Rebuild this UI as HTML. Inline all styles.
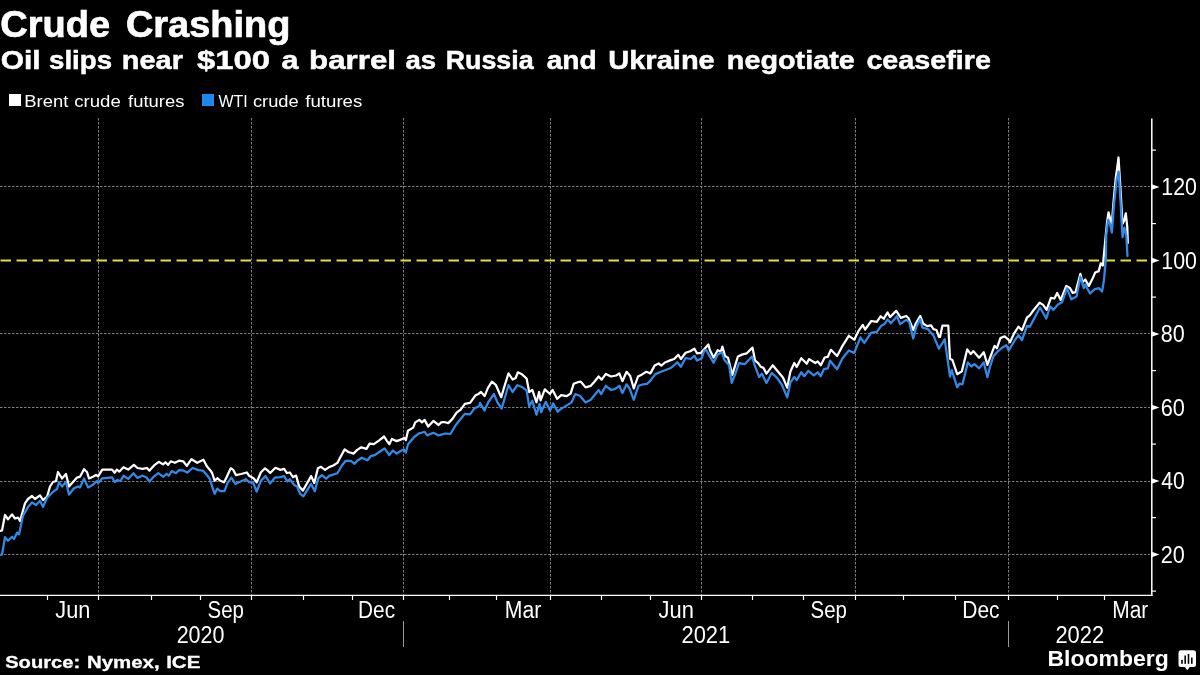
<!DOCTYPE html>
<html><head><meta charset="utf-8"><style>
html,body{margin:0;padding:0;background:#000;}
body{width:1200px;height:675px;overflow:hidden;}
svg{display:block;font-family:"Liberation Sans", sans-serif;will-change:transform;}
</style></head><body>
<svg width="1200" height="675" viewBox="0 0 1200 675">
<rect width="1200" height="675" fill="#000"/>
<line x1="0" y1="186.5" x2="1150" y2="186.5" stroke="#7c7c7c" stroke-width="1" stroke-dasharray="2.5 1.5"/>
<line x1="0" y1="333.5" x2="1150" y2="333.5" stroke="#7c7c7c" stroke-width="1" stroke-dasharray="2.5 1.5"/>
<line x1="0" y1="407.5" x2="1150" y2="407.5" stroke="#7c7c7c" stroke-width="1" stroke-dasharray="2.5 1.5"/>
<line x1="0" y1="481.5" x2="1150" y2="481.5" stroke="#7c7c7c" stroke-width="1" stroke-dasharray="2.5 1.5"/>
<line x1="0" y1="554.5" x2="1150" y2="554.5" stroke="#7c7c7c" stroke-width="1" stroke-dasharray="2.5 1.5"/>
<line x1="98.5" y1="118" x2="98.5" y2="595" stroke="#7c7c7c" stroke-width="1" stroke-dasharray="2.5 1.5"/>
<line x1="251.5" y1="118" x2="251.5" y2="595" stroke="#7c7c7c" stroke-width="1" stroke-dasharray="2.5 1.5"/>
<line x1="403.5" y1="118" x2="403.5" y2="595" stroke="#7c7c7c" stroke-width="1" stroke-dasharray="2.5 1.5"/>
<line x1="550.5" y1="118" x2="550.5" y2="595" stroke="#7c7c7c" stroke-width="1" stroke-dasharray="2.5 1.5"/>
<line x1="701.5" y1="118" x2="701.5" y2="595" stroke="#7c7c7c" stroke-width="1" stroke-dasharray="2.5 1.5"/>
<line x1="855.5" y1="118" x2="855.5" y2="595" stroke="#7c7c7c" stroke-width="1" stroke-dasharray="2.5 1.5"/>
<line x1="1008.5" y1="118" x2="1008.5" y2="595" stroke="#7c7c7c" stroke-width="1" stroke-dasharray="2.5 1.5"/>
<line x1="0.5" y1="260.4" x2="1150" y2="260.4" stroke="#e2e02c" stroke-width="2" stroke-dasharray="10.5 5.5"/>
<polyline points="0.0,531.0 2.0,530.5 5.0,515.0 8.0,519.4 12.0,514.4 15.0,518.5 18.0,517.6 20.0,521.0 25.0,503.4 28.0,499.0 32.0,496.0 35.0,499.0 40.0,495.4 43.0,500.0 47.0,497.0 50.0,486.5 53.0,482.0 56.0,481.0 58.0,472.0 62.0,478.5 66.0,474.0 69.0,486.5 73.0,482.0 77.0,477.6 80.0,476.7 84.0,469.2 87.0,472.0 89.0,478.5 93.0,476.7 96.0,475.0 98.1,476.3 102.3,469.6 107.4,469.6 112.1,469.6 114.7,472.7 116.8,469.6 119.4,471.6 123.5,467.2 128.2,469.6 133.9,464.9 137.5,468.0 142.7,468.8 146.9,468.0 149.5,470.6 154.1,465.4 158.8,461.8 163.0,464.4 165.5,462.3 168.1,464.9 170.7,461.3 174.9,462.8 179.0,460.7 183.2,461.3 186.8,465.9 191.5,459.2 197.2,462.8 203.4,459.7 207.0,466.5 210.0,469.9 212.1,473.0 214.7,480.8 217.3,478.2 220.4,480.8 224.0,482.3 226.6,477.2 230.7,468.3 233.3,469.9 235.9,475.1 241.1,474.0 246.8,472.5 249.4,476.1 253.6,478.2 256.7,482.3 260.8,472.5 265.0,468.3 267.6,470.4 270.2,473.0 275.4,467.8 280.5,469.9 284.2,468.9 286.8,473.0 289.9,472.5 293.0,477.2 296.1,475.6 299.2,486.5 302.8,490.6 307.0,483.4 311.1,476.1 314.3,482.9 317.9,468.3 321.0,466.8 325.1,469.9 329.1,467.1 333.3,465.5 337.4,462.9 340.6,456.7 344.7,449.4 348.3,452.0 353.5,453.6 357.2,449.9 361.3,447.3 366.5,448.9 369.6,443.7 373.8,444.2 378.9,440.6 384.1,436.5 386.7,440.6 389.3,444.2 391.9,439.0 396.6,441.1 400.7,439.6 404.4,438.0 405.9,440.1 408.0,430.7 413.2,427.6 415.2,422.4 419.4,419.9 422.0,422.4 424.6,419.9 428.2,426.6 433.4,420.9 438.6,425.0 441.2,422.4 444.1,422.0 448.3,423.1 452.4,418.9 456.6,412.7 460.7,409.6 464.9,403.9 470.1,402.9 475.3,395.6 478.4,394.0 481.0,392.0 484.6,396.1 487.7,388.3 491.9,381.6 496.0,385.2 501.2,397.2 504.3,386.8 508.5,373.3 512.6,379.5 515.7,378.0 517.8,372.3 522.0,374.3 526.6,378.5 529.2,392.0 532.3,389.9 536.5,402.3 539.1,392.0 540.6,400.3 544.8,389.4 550.0,394.0 552.6,389.9 557.1,398.8 561.2,395.2 566.4,396.2 570.6,393.6 573.7,383.8 577.8,382.2 580.9,381.7 585.6,387.4 590.8,385.8 594.4,381.7 598.6,376.5 601.7,379.6 605.8,373.9 611.0,376.5 616.2,375.5 619.3,373.4 622.4,381.2 626.6,371.8 630.2,376.0 633.8,388.4 638.0,376.5 642.1,374.4 646.3,371.8 650.4,373.4 654.6,365.6 658.7,363.5 661.3,365.6 665.0,362.5 670.1,360.4 674.1,359.0 678.3,354.9 680.9,359.0 685.6,352.8 690.2,351.3 694.4,348.7 697.0,353.3 701.1,352.8 704.2,349.2 708.4,344.5 709.9,350.2 713.6,357.5 717.7,350.2 720.8,351.8 722.4,346.6 725.0,355.9 728.1,358.0 732.2,375.1 737.9,356.5 742.6,354.4 746.8,353.3 752.5,347.6 755.1,360.6 758.2,363.2 760.8,366.8 763.4,367.9 766.5,373.6 772.7,365.3 777.9,371.5 783.1,377.7 787.2,387.6 790.4,371.5 794.3,363.0 796.7,366.9 801.3,358.3 806.8,363.8 809.1,359.1 815.3,363.0 817.7,361.4 820.8,365.3 824.7,357.5 827.8,356.8 830.9,349.8 837.1,356.0 842.5,345.9 848.8,335.8 854.2,339.7 858.9,330.3 862.8,324.9 865.1,329.5 871.3,321.0 876.8,321.8 880.6,316.3 883.8,318.7 887.6,312.4 890.0,317.1 896.2,310.9 900.9,317.9 906.2,316.0 908.6,318.3 913.2,330.0 915.6,323.8 920.2,316.0 923.3,323.8 927.2,326.1 931.1,325.3 933.4,329.2 936.5,330.0 938.9,337.0 940.0,336.9 942.4,325.7 948.3,325.7 950.0,358.8 952.4,360.0 957.2,374.2 961.9,371.3 967.2,349.4 970.8,354.1 973.2,351.1 979.1,357.7 983.8,352.3 987.4,364.8 994.5,345.8 996.9,348.2 1000.4,338.1 1004.6,336.3 1008.7,339.9 1010.0,342.3 1014.3,333.1 1018.5,326.7 1022.0,330.2 1027.0,317.5 1029.8,315.4 1033.3,310.5 1039.6,302.7 1043.1,304.9 1046.6,309.8 1050.9,297.8 1054.4,298.5 1057.2,292.9 1060.7,299.9 1066.3,285.9 1069.9,288.0 1072.7,292.9 1075.5,292.2 1080.4,273.9 1082.5,282.3 1085.3,279.5 1088.8,285.9 1093.1,277.4 1095.2,272.5 1098.7,271.1 1100.8,263.4 1102.9,265.5 1105.2,241.2 1107.1,221.9 1108.5,212.3 1110.0,218.0 1111.5,227.7 1113.8,198.8 1115.8,177.7 1117.7,164.2 1118.5,157.5 1120.6,191.2 1122.5,223.8 1124.4,220.0 1125.8,213.3 1127.3,227.7 1127.8,243.0" fill="none" stroke="#ffffff" stroke-width="2.25" stroke-linejoin="round" stroke-linecap="round"/>
<polyline points="0.0,555.0 2.0,554.5 5.0,537.2 8.0,540.7 12.0,536.8 14.0,539.0 17.0,532.7 19.0,534.5 23.0,515.8 28.0,507.0 32.0,502.5 36.0,505.0 40.0,500.7 43.0,507.0 47.0,498.0 53.0,491.8 57.0,489.0 59.0,482.0 62.0,486.5 66.0,482.0 69.0,494.5 74.0,488.3 78.0,486.5 80.0,487.4 84.0,478.5 88.0,487.4 93.0,484.7 97.0,481.0 98.1,483.0 102.3,478.4 112.1,477.3 114.7,482.0 117.3,480.0 120.4,481.0 123.5,475.8 128.2,478.9 133.4,473.2 137.5,477.9 142.2,475.8 146.3,477.3 149.5,481.5 154.1,476.3 158.3,473.2 163.5,476.8 166.6,473.7 168.7,475.8 171.8,471.1 175.9,473.2 179.0,470.1 183.7,470.6 187.3,472.7 192.5,468.0 198.7,470.1 202.9,470.6 207.0,475.3 210.0,479.2 212.1,486.5 214.7,493.8 217.3,488.6 220.4,491.2 224.5,491.2 227.6,482.9 231.3,477.7 235.4,483.9 241.1,481.3 245.8,479.2 249.4,482.3 253.0,482.3 256.7,491.7 260.8,480.8 265.5,476.1 270.2,483.4 274.8,477.7 280.5,477.2 284.2,476.1 287.3,481.3 289.9,479.2 294.0,484.9 297.1,486.5 300.2,493.8 303.4,496.3 307.5,489.6 311.1,483.9 314.8,491.2 318.4,478.2 322.0,475.1 326.2,478.7 329.1,475.9 337.4,473.3 341.6,466.0 345.7,460.8 350.9,460.8 354.6,463.9 357.2,460.8 361.8,457.7 367.5,460.3 370.6,456.2 374.8,455.1 380.0,451.5 384.6,448.4 389.3,455.1 392.9,450.5 396.6,453.6 400.7,451.0 403.8,449.4 405.9,452.5 408.0,444.2 414.2,437.0 418.9,433.3 421.5,432.8 424.6,431.8 427.2,435.4 433.4,432.8 438.6,435.4 445.2,433.5 450.4,434.0 455.6,425.2 460.7,418.9 464.9,413.8 470.1,414.3 474.2,408.6 479.4,406.0 480.0,402.9 484.5,410.6 488.1,402.5 490.5,399.0 493.9,393.9 495.5,397.6 497.5,402.5 501.6,408.6 504.4,399.2 508.5,385.2 512.6,392.0 517.3,385.2 522.5,387.3 526.6,390.4 529.2,406.5 532.3,400.8 536.5,414.8 539.6,403.9 541.1,412.2 545.8,401.8 550.0,410.6 553.1,403.4 557.7,411.7 560.0,409.6 571.6,402.4 575.2,394.1 579.9,395.7 585.6,402.4 590.8,399.8 598.6,390.0 601.2,394.1 605.8,385.8 611.0,390.0 615.2,388.9 619.3,385.8 622.4,393.1 626.6,384.3 629.7,388.9 633.8,399.8 638.5,385.8 643.2,384.3 647.3,383.8 650.4,380.6 655.1,374.4 659.8,372.3 665.0,370.3 670.1,368.2 673.1,366.3 677.3,362.2 680.9,366.8 685.6,358.0 690.7,359.0 694.4,355.9 697.0,360.6 701.6,358.5 704.2,350.7 706.3,350.2 708.9,354.9 713.6,362.7 717.7,354.4 721.9,352.3 724.5,360.1 729.1,365.3 731.7,382.9 735.4,373.6 739.0,363.2 744.7,364.2 752.0,356.5 754.5,364.8 759.2,377.2 761.8,373.6 766.5,382.9 771.7,373.0 776.8,377.7 782.0,385.0 787.2,397.4 790.4,382.4 794.3,377.0 796.7,380.1 801.3,372.3 804.4,376.2 808.3,370.8 813.8,375.4 817.7,372.3 820.8,376.2 823.9,369.2 827.8,368.4 830.1,360.7 837.1,369.2 842.5,358.3 848.8,350.5 854.2,352.9 860.4,337.3 864.3,342.8 871.3,332.7 876.8,331.9 881.4,325.7 884.5,324.1 887.6,319.4 890.8,323.3 897.0,316.3 900.1,324.1 906.2,319.9 909.3,322.2 913.2,338.5 916.3,326.9 920.2,319.1 922.5,327.7 928.0,329.2 933.4,335.4 938.9,348.7 940.0,347.0 944.7,339.3 950.0,376.6 951.8,370.1 957.2,387.3 959.5,383.7 962.5,384.3 967.8,362.4 971.4,366.5 974.4,364.2 979.1,368.3 983.8,362.4 987.4,377.2 990.0,367.0 993.3,356.5 998.1,351.1 1002.0,347.8 1006.4,345.2 1008.7,350.5 1015.0,340.0 1018.5,335.1 1022.0,340.0 1027.0,325.9 1029.8,326.7 1034.0,318.9 1040.0,307.5 1046.3,318.5 1050.1,306.5 1053.5,309.9 1057.8,304.6 1062.1,302.2 1067.0,288.2 1071.3,299.3 1076.6,296.4 1080.4,276.7 1083.8,288.2 1085.2,284.4 1090.0,293.5 1094.9,289.2 1099.2,288.2 1102.1,291.6 1104.0,280.0 1105.9,258.0 1106.2,235.4 1108.1,220.0 1110.0,223.8 1111.9,232.5 1113.8,206.5 1116.7,179.6 1118.7,171.9 1120.6,202.7 1122.5,237.3 1124.4,227.7 1126.3,235.4 1127.5,256.0" fill="none" stroke="#318aea" stroke-width="2.25" stroke-linejoin="round" stroke-linecap="round"/>
<line x1="1151.8" y1="118.5" x2="1151.8" y2="596" stroke="#fff" stroke-width="1.5"/>
<line x1="0" y1="595.4" x2="1152.4" y2="595.4" stroke="#fff" stroke-width="1.15"/>
<line x1="1151" y1="150.1" x2="1156" y2="150.1" stroke="#fff" stroke-width="1.2"/>
<line x1="1151" y1="223.6" x2="1156" y2="223.6" stroke="#fff" stroke-width="1.2"/>
<line x1="1151" y1="297.1" x2="1156" y2="297.1" stroke="#fff" stroke-width="1.2"/>
<line x1="1151" y1="370.6" x2="1156" y2="370.6" stroke="#fff" stroke-width="1.2"/>
<line x1="1151" y1="444.1" x2="1156" y2="444.1" stroke="#fff" stroke-width="1.2"/>
<line x1="1151" y1="517.6" x2="1156" y2="517.6" stroke="#fff" stroke-width="1.2"/>
<line x1="1151" y1="591.1" x2="1156" y2="591.1" stroke="#fff" stroke-width="1.2"/>
<polygon points="1151,183.9 1159.5,186.9 1151,189.9" fill="#fff"/>
<text x="1161.32" y="195.1" font-size="23" fill="#fff" textLength="35.59" lengthAdjust="spacingAndGlyphs">120</text>
<polygon points="1151,257.4 1159.5,260.4 1151,263.4" fill="#fff"/>
<text x="1161.32" y="268.6" font-size="23" fill="#fff" textLength="35.59" lengthAdjust="spacingAndGlyphs">100</text>
<polygon points="1151,330.9 1159.5,333.9 1151,336.9" fill="#fff"/>
<text x="1160.86" y="342.1" font-size="23" fill="#fff" textLength="23.97" lengthAdjust="spacingAndGlyphs">80</text>
<polygon points="1151,404.4 1159.5,407.4 1151,410.4" fill="#fff"/>
<text x="1160.67" y="415.6" font-size="23" fill="#fff" textLength="24.17" lengthAdjust="spacingAndGlyphs">60</text>
<polygon points="1151,477.9 1159.5,480.9 1151,483.9" fill="#fff"/>
<text x="1161.34" y="489.1" font-size="23" fill="#fff" textLength="23.47" lengthAdjust="spacingAndGlyphs">40</text>
<polygon points="1151,551.4 1159.5,554.4 1151,557.4" fill="#fff"/>
<text x="1160.77" y="562.6" font-size="23" fill="#fff" textLength="24.07" lengthAdjust="spacingAndGlyphs">20</text>
<line x1="47.5" y1="595" x2="47.5" y2="600" stroke="#fff" stroke-width="1.2"/>
<line x1="98.5" y1="595" x2="98.5" y2="600" stroke="#fff" stroke-width="1.2"/>
<line x1="151.5" y1="595" x2="151.5" y2="600" stroke="#fff" stroke-width="1.2"/>
<line x1="200.5" y1="595" x2="200.5" y2="600" stroke="#fff" stroke-width="1.2"/>
<line x1="251.5" y1="595" x2="251.5" y2="600" stroke="#fff" stroke-width="1.2"/>
<line x1="303.5" y1="595" x2="303.5" y2="600" stroke="#fff" stroke-width="1.2"/>
<line x1="352.5" y1="595" x2="352.5" y2="600" stroke="#fff" stroke-width="1.2"/>
<line x1="403.5" y1="595" x2="403.5" y2="600" stroke="#fff" stroke-width="1.2"/>
<line x1="449.5" y1="595" x2="449.5" y2="600" stroke="#fff" stroke-width="1.2"/>
<line x1="496.5" y1="595" x2="496.5" y2="600" stroke="#fff" stroke-width="1.2"/>
<line x1="550.5" y1="595" x2="550.5" y2="600" stroke="#fff" stroke-width="1.2"/>
<line x1="601.5" y1="595" x2="601.5" y2="600" stroke="#fff" stroke-width="1.2"/>
<line x1="650.5" y1="595" x2="650.5" y2="600" stroke="#fff" stroke-width="1.2"/>
<line x1="701.5" y1="595" x2="701.5" y2="600" stroke="#fff" stroke-width="1.2"/>
<line x1="752.5" y1="595" x2="752.5" y2="600" stroke="#fff" stroke-width="1.2"/>
<line x1="803.5" y1="595" x2="803.5" y2="600" stroke="#fff" stroke-width="1.2"/>
<line x1="855.5" y1="595" x2="855.5" y2="600" stroke="#fff" stroke-width="1.2"/>
<line x1="903.5" y1="595" x2="903.5" y2="600" stroke="#fff" stroke-width="1.2"/>
<line x1="955.5" y1="595" x2="955.5" y2="600" stroke="#fff" stroke-width="1.2"/>
<line x1="1008.5" y1="595" x2="1008.5" y2="600" stroke="#fff" stroke-width="1.2"/>
<line x1="1057.5" y1="595" x2="1057.5" y2="600" stroke="#fff" stroke-width="1.2"/>
<line x1="1104.5" y1="595" x2="1104.5" y2="600" stroke="#fff" stroke-width="1.2"/>
<text x="55.32" y="617.6" font-size="23" fill="#fff" textLength="35.08" lengthAdjust="spacingAndGlyphs">Jun</text>
<text x="207.52" y="617.6" font-size="23" fill="#fff" textLength="36.39" lengthAdjust="spacingAndGlyphs">Sep</text>
<text x="358.08" y="617.6" font-size="23" fill="#fff" textLength="36.96" lengthAdjust="spacingAndGlyphs">Dec</text>
<text x="504.75" y="617.6" font-size="23" fill="#fff" textLength="36.54" lengthAdjust="spacingAndGlyphs">Mar</text>
<text x="658.62" y="617.6" font-size="23" fill="#fff" textLength="35.29" lengthAdjust="spacingAndGlyphs">Jun</text>
<text x="810.52" y="617.6" font-size="23" fill="#fff" textLength="36.39" lengthAdjust="spacingAndGlyphs">Sep</text>
<text x="962.27" y="617.6" font-size="23" fill="#fff" textLength="37.28" lengthAdjust="spacingAndGlyphs">Dec</text>
<text x="1112.27" y="617.6" font-size="23" fill="#fff" textLength="36.01" lengthAdjust="spacingAndGlyphs">Mar</text>
<text x="176.67" y="642.6" font-size="23" fill="#fff" textLength="47.84" lengthAdjust="spacingAndGlyphs">2020</text>
<text x="681.45" y="642.6" font-size="23" fill="#fff" textLength="48.77" lengthAdjust="spacingAndGlyphs">2021</text>
<text x="1055.45" y="642.6" font-size="23" fill="#fff" textLength="48.66" lengthAdjust="spacingAndGlyphs">2022</text>
<line x1="403.5" y1="621" x2="403.5" y2="647" stroke="#9a9a9a" stroke-width="1"/>
<line x1="1008.5" y1="621" x2="1008.5" y2="647" stroke="#9a9a9a" stroke-width="1"/>
<text x="0.36" y="36.7" font-size="37" font-weight="bold" fill="#fff" textLength="109.72" lengthAdjust="spacingAndGlyphs" stroke="#fff" stroke-width="0.7">Crude</text>
<text x="125.96" y="36.7" font-size="37" font-weight="bold" fill="#fff" textLength="164.46" lengthAdjust="spacingAndGlyphs" stroke="#fff" stroke-width="0.7">Crashing</text>
<text x="0.77" y="68.8" font-size="26.7" font-weight="bold" fill="#fff" textLength="39.87" lengthAdjust="spacingAndGlyphs" stroke="#fff" stroke-width="0.5">Oil</text>
<text x="49.07" y="68.8" font-size="26.7" font-weight="bold" fill="#fff" textLength="63.02" lengthAdjust="spacingAndGlyphs" stroke="#fff" stroke-width="0.5">slips</text>
<text x="121.80" y="68.8" font-size="26.7" font-weight="bold" fill="#fff" textLength="61.13" lengthAdjust="spacingAndGlyphs" stroke="#fff" stroke-width="0.5">near</text>
<text x="197.01" y="68.8" font-size="26.7" font-weight="bold" fill="#fff" textLength="72.97" lengthAdjust="spacingAndGlyphs" stroke="#fff" stroke-width="0.5">$100</text>
<text x="281.58" y="68.8" font-size="26.7" font-weight="bold" fill="#fff" textLength="16.99" lengthAdjust="spacingAndGlyphs" stroke="#fff" stroke-width="0.5">a</text>
<text x="309.14" y="68.8" font-size="26.7" font-weight="bold" fill="#fff" textLength="86.84" lengthAdjust="spacingAndGlyphs" stroke="#fff" stroke-width="0.5">barrel</text>
<text x="405.43" y="68.8" font-size="26.7" font-weight="bold" fill="#fff" textLength="30.60" lengthAdjust="spacingAndGlyphs" stroke="#fff" stroke-width="0.5">as</text>
<text x="445.69" y="68.8" font-size="26.7" font-weight="bold" fill="#fff" textLength="87.92" lengthAdjust="spacingAndGlyphs" stroke="#fff" stroke-width="0.5">Russia</text>
<text x="546.66" y="68.8" font-size="26.7" font-weight="bold" fill="#fff" textLength="50.11" lengthAdjust="spacingAndGlyphs" stroke="#fff" stroke-width="0.5">and</text>
<text x="608.26" y="68.8" font-size="26.7" font-weight="bold" fill="#fff" textLength="106.52" lengthAdjust="spacingAndGlyphs" stroke="#fff" stroke-width="0.5">Ukraine</text>
<text x="726.81" y="68.8" font-size="26.7" font-weight="bold" fill="#fff" textLength="128.00" lengthAdjust="spacingAndGlyphs" stroke="#fff" stroke-width="0.5">negotiate</text>
<text x="866.42" y="68.8" font-size="26.7" font-weight="bold" fill="#fff" textLength="124.54" lengthAdjust="spacingAndGlyphs" stroke="#fff" stroke-width="0.5">ceasefire</text>
<rect x="9" y="94" width="12" height="12" fill="#fff"/>
<text x="24.35" y="106.5" font-size="16.5" fill="#fff" textLength="43.99" lengthAdjust="spacingAndGlyphs">Brent</text>
<text x="74.21" y="106.5" font-size="16.5" fill="#fff" textLength="46.55" lengthAdjust="spacingAndGlyphs">crude</text>
<text x="128.08" y="106.5" font-size="16.5" fill="#fff" textLength="56.33" lengthAdjust="spacingAndGlyphs">futures</text>
<rect x="202" y="94" width="12" height="12" fill="#1f88f0"/>
<text x="218.40" y="106.5" font-size="16.5" fill="#fff" textLength="29.18" lengthAdjust="spacingAndGlyphs">WTI</text>
<text x="252.92" y="106.5" font-size="16.5" fill="#fff" textLength="45.83" lengthAdjust="spacingAndGlyphs">crude</text>
<text x="305.27" y="106.5" font-size="16.5" fill="#fff" textLength="57.04" lengthAdjust="spacingAndGlyphs">futures</text>
<text x="5.20" y="667.5" font-size="16.8" font-weight="bold" fill="#fff" textLength="74.96" lengthAdjust="spacingAndGlyphs" stroke="#fff" stroke-width="0.3">Source:</text>
<text x="86.96" y="667.5" font-size="16.8" font-weight="bold" fill="#fff" textLength="72.64" lengthAdjust="spacingAndGlyphs" stroke="#fff" stroke-width="0.3">Nymex,</text>
<text x="166.15" y="667.5" font-size="16.8" font-weight="bold" fill="#fff" textLength="34.29" lengthAdjust="spacingAndGlyphs" stroke="#fff" stroke-width="0.3">ICE</text>
<text x="1047.43" y="666" font-size="22" font-weight="bold" fill="#fff" textLength="121.35" lengthAdjust="spacingAndGlyphs">Bloomberg</text>
<path d="M1181,650.2 h12.5 a2.5,2.5 0 0 1 2.5,2.5 v11.7 a2.5,2.5 0 0 1 -2.5,2.5 h-3.7 l-2.5,3.3 l-2.5,-3.3 h-3.8 a2.5,2.5 0 0 1 -2.5,-2.5 v-11.7 a2.5,2.5 0 0 1 2.5,-2.5 z" fill="#fff"/>
<rect x="1181.2" y="659.8" width="1.6" height="4.0" fill="#000"/>
<rect x="1184.4" y="655.5" width="1.6" height="8.3" fill="#000"/>
<rect x="1187.7" y="654" width="1.6" height="9.8" fill="#000"/>
<rect x="1191" y="657.6" width="1.6" height="6.2" fill="#000"/>
</svg></body></html>
